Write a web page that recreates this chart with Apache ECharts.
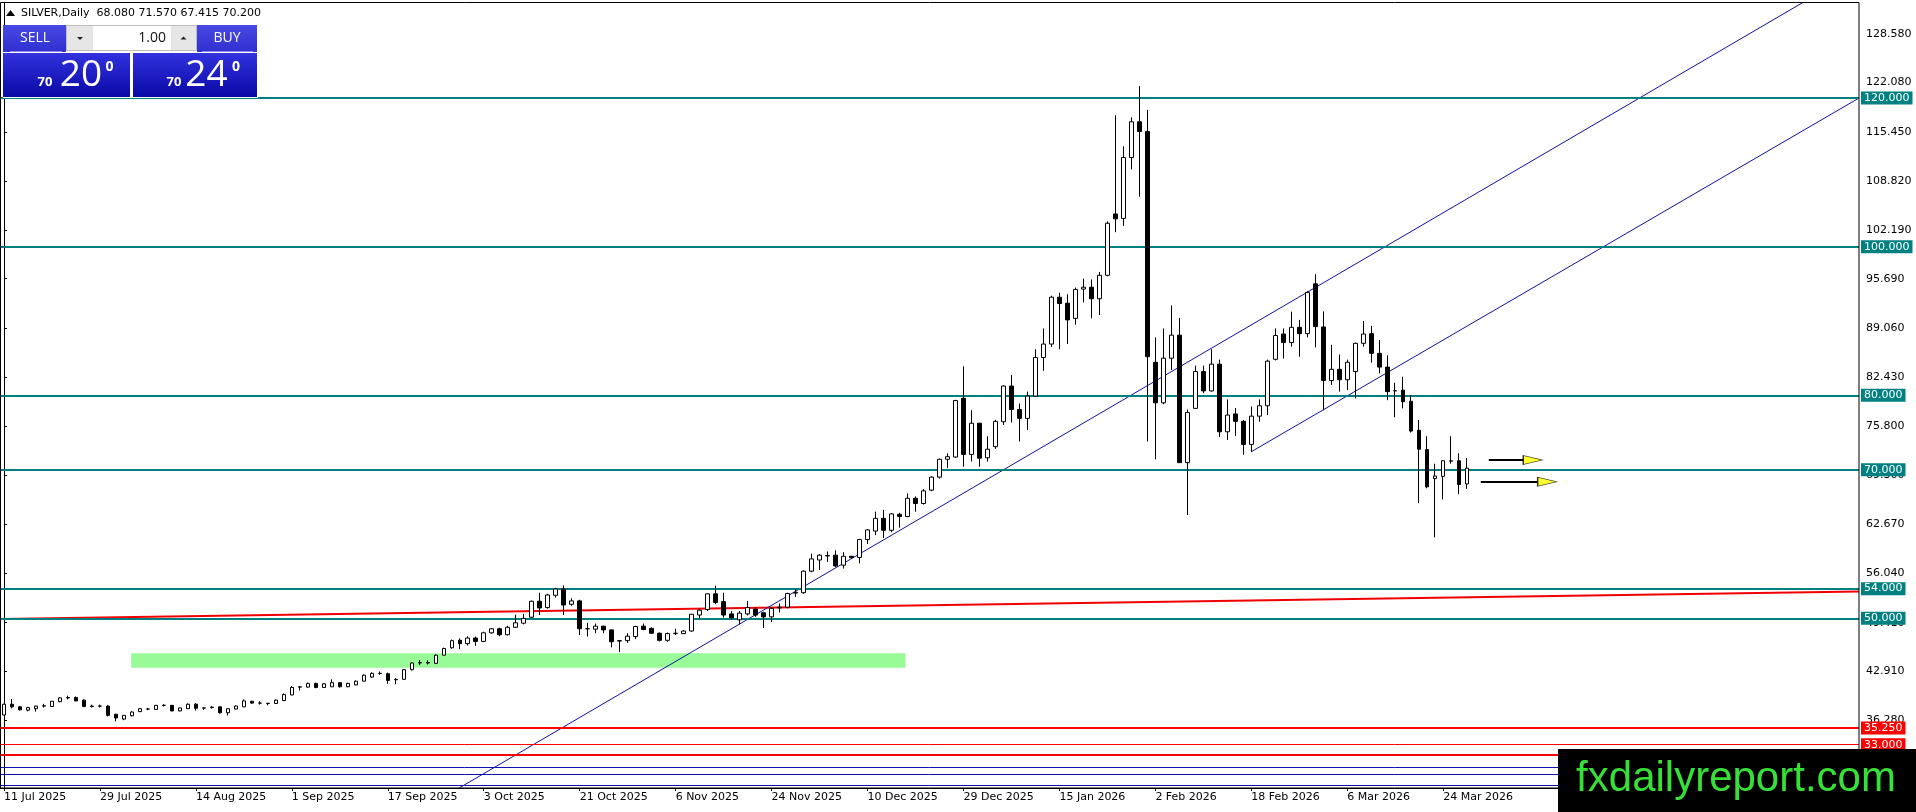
<!DOCTYPE html>
<html><head><meta charset="utf-8">
<script src="https://cdn.jsdelivr.net/npm/echarts@6/dist/echarts.min.js"></script>
<style>html,body{margin:0;padding:0;background:#fff;overflow:hidden}#c{width:1916px;height:812px}</style>
</head><body><div id="c"></div>
<script>
// ---- daily candles, index 0 = 11 Jul 2025 ... 183 = 27 Mar 2026 ----
const opens = [37.00,38.45,38.10,37.65,37.85,38.20,38.15,38.80,39.30,39.35,39.00,38.15,38.20,38.20,37.10,36.45,36.90,37.45,37.80,37.75,
38.30,38.30,37.55,37.85,38.45,37.93,38.00,38.10,37.30,37.80,38.10,38.85,38.60,38.55,38.55,38.95,39.70,40.75,40.75,41.25,
40.70,40.80,41.35,40.80,41.05,41.55,42.10,42.60,42.55,41.75,41.80,43.10,44.00,44.05,43.95,45.05,46.05,47.05,46.60,47.35,
46.90,48.05,48.60,47.80,48.80,49.35,50.15,52.30,51.45,53.10,53.95,51.90,52.35,48.60,48.55,48.95,48.45,46.95,47.00,47.55,
48.95,48.65,48.00,47.05,47.95,47.95,48.30,50.45,51.20,53.30,52.25,50.60,49.80,50.60,51.25,50.75,50.20,51.40,51.50,53.40,
53.45,56.35,57.85,58.45,58.50,57.15,58.35,58.20,60.60,61.75,63.45,61.85,64.00,63.70,66.15,65.45,67.25,69.00,71.40,71.70,
79.60,72.05,76.25,71.60,73.10,76.45,81.25,78.10,76.90,79.90,85.10,86.90,93.20,92.40,90.35,94.30,94.55,93.00,96.15,104.40,
103.80,112.00,116.80,115.50,84.45,79.00,85.00,88.10,70.95,78.25,83.20,80.60,84.20,75.10,77.50,76.50,73.40,77.20,78.60,84.85,
88.25,87.10,89.15,88.30,95.00,89.20,82.00,83.50,82.10,83.20,87.00,88.30,85.65,83.80,80.60,80.70,79.20,75.30,72.70,68.80,
69.10,71.15,71.20,68.08];
const highs = [38.50,39.15,38.20,38.10,38.25,38.50,38.90,39.40,39.60,39.50,39.10,38.40,38.40,38.30,37.15,37.00,37.50,37.90,37.95,38.35,
38.45,38.35,38.00,38.55,38.60,37.97,38.20,38.15,37.90,38.30,39.10,38.90,38.85,38.60,39.10,39.90,40.90,40.85,41.35,41.35,
41.30,41.80,41.40,41.35,41.65,42.45,42.75,42.85,42.70,41.95,43.20,44.10,44.40,44.35,45.15,46.05,47.15,47.30,47.60,47.55,
48.20,48.70,48.75,49.00,50.50,50.60,52.40,53.45,53.30,54.10,54.45,52.70,52.50,49.40,49.30,49.00,48.50,47.05,48.00,49.00,
49.30,48.80,48.10,48.10,48.60,48.40,50.60,51.30,53.35,54.40,53.45,51.00,51.00,52.35,51.50,50.90,51.45,52.00,53.45,53.95,
56.45,58.70,58.65,59.00,59.15,58.90,58.40,60.70,62.00,64.35,64.60,64.15,64.20,66.80,66.40,67.40,69.10,71.50,72.20,79.40,
83.90,78.00,76.30,74.50,76.70,81.35,82.75,78.90,80.50,86.20,89.00,93.40,93.80,93.60,94.50,95.70,95.60,96.60,103.40,117.70,
113.50,117.40,121.60,118.40,87.80,89.00,92.10,90.40,78.10,84.00,84.00,86.20,84.80,79.45,78.30,76.70,78.50,79.45,84.80,89.00,
89.00,91.25,90.15,94.00,96.30,91.30,86.80,85.50,84.80,87.10,90.00,89.35,87.45,85.40,81.70,82.50,80.05,76.70,74.50,70.80,
71.30,74.50,72.20,71.57];
const lows = [36.95,37.90,37.60,37.50,37.45,38.00,38.10,38.70,39.10,38.85,38.05,38.00,38.00,36.80,36.15,36.30,36.80,37.40,37.65,37.70,
38.15,37.50,37.50,37.80,37.60,37.70,37.85,37.20,36.95,37.75,38.05,38.50,38.40,38.30,38.50,38.85,39.65,40.30,40.70,40.60,
40.65,40.75,40.70,40.75,41.00,41.50,42.00,42.40,41.20,41.15,41.75,43.00,43.70,43.80,43.85,45.00,45.90,45.85,46.35,46.30,
46.80,47.95,47.60,47.70,48.70,49.20,50.05,50.45,51.30,52.80,50.45,51.70,47.75,47.55,48.00,48.00,46.10,45.45,46.70,47.20,
48.40,47.90,46.90,46.85,47.75,47.90,48.20,50.00,51.00,51.90,50.10,49.80,49.20,50.40,50.20,48.70,49.50,50.80,51.35,52.90,
53.30,56.20,56.50,57.60,56.90,56.70,58.00,57.40,60.00,61.20,60.80,61.60,62.20,63.60,64.35,65.30,67.10,68.80,70.20,71.60,
70.40,71.10,70.40,71.10,72.80,76.00,76.35,73.80,75.35,79.80,83.30,86.50,86.20,86.90,89.50,92.50,90.35,90.80,96.00,101.95,
102.80,110.40,106.70,73.80,71.40,78.80,83.40,70.90,63.90,78.20,80.30,80.50,74.40,74.00,74.55,72.00,72.40,76.45,77.35,84.70,
84.95,86.55,85.20,87.80,86.45,78.00,81.40,80.50,80.70,79.60,86.55,84.40,82.95,79.35,77.05,78.25,75.00,65.50,67.50,60.90,
66.00,70.80,66.70,67.415];
const closes = [38.45,38.10,37.70,38.00,38.20,38.25,38.85,39.30,39.35,38.90,38.15,38.20,38.20,36.95,36.60,36.95,37.40,37.85,37.80,38.30,
38.30,37.55,37.95,38.45,37.90,37.95,38.05,37.30,37.85,38.20,38.90,38.60,38.60,38.58,39.00,39.75,40.70,40.80,41.25,40.70,
41.20,41.35,40.80,41.25,41.55,42.35,42.60,42.60,41.65,41.80,43.10,44.00,44.05,44.00,45.05,45.95,47.00,46.60,47.35,46.90,
48.05,48.60,47.80,48.80,49.40,50.00,52.30,51.40,53.15,53.95,51.80,52.35,48.60,48.60,48.95,48.45,46.85,47.00,47.60,48.90,
48.50,48.00,47.05,47.95,48.00,48.30,50.55,51.10,53.30,52.15,50.45,50.05,50.70,51.45,50.45,50.20,51.35,51.50,53.35,53.50,
56.35,58.00,58.50,58.40,57.05,58.35,58.20,60.60,61.90,63.45,61.85,64.05,63.70,66.15,65.45,67.15,69.00,71.40,71.75,79.30,
72.05,76.25,71.55,72.75,76.50,81.25,78.10,76.90,79.90,85.10,86.90,93.20,92.35,90.15,94.25,94.55,93.00,96.15,103.15,103.75,
112.00,116.80,115.50,85.20,79.00,85.00,88.10,70.95,77.70,83.20,80.60,84.20,75.10,77.35,76.50,73.40,77.20,78.60,84.60,88.05,
87.10,89.15,88.30,93.85,89.25,82.00,83.50,82.10,84.45,87.00,88.25,85.65,83.80,80.50,80.62,79.15,75.20,72.75,67.70,69.15,
71.20,71.20,68.00,70.20];

// ---- axes ----
const dateTickIdx = [0,12,24,36,48,60,72,84,96,108,120,132,144,156,168,180];
const dateTickLabels = ['11 Jul 2025','29 Jul 2025','14 Aug 2025','1 Sep 2025','17 Sep 2025','3 Oct 2025','21 Oct 2025','6 Nov 2025',
  '24 Nov 2025','10 Dec 2025','29 Dec 2025','15 Jan 2026','2 Feb 2026','18 Feb 2026','6 Mar 2026','24 Mar 2026'];
const priceTicks = [128.58,122.08,115.45,108.82,102.19,95.69,89.06,82.43,75.80,69.30,62.67,56.04,49.41,42.91,36.28];
const xRange = [-0.5, 232];
const yRange = [27.18, 132.78];

// ---- drawn objects ----
const tealLevels = [120, 100, 80, 70, 54, 50];
const redLabeledLevels = [35.25, 33.0];
const redThickLevel = [31.6];
const blueLevels = [30.0, 29.0, 27.5];
const risingRedLine = [[-0.5, 49.91], [232, 53.61]];
const trendLine = [[50, 22.83], [232, 137.26]];
const channelLine = [[156, 72.42], [232, 120.0]];
const greenZone = [[15.9, 45.30], [112.75, 43.36]];
const arrowShafts = [[[185.7, 71.3], [190.0, 71.3]], [[184.7, 68.38], [191.8, 68.38]]];
const arrowHeads = [[191.2, 71.3], [193.0, 68.38]];

const candles = opens.map((o, i) => [i, o, closes[i], lows[i], highs[i]]);
const FONT = 'DejaVu Sans';
const chart = echarts.init(document.getElementById('c'), null, {renderer: 'canvas'});

const levelLabel = (bg) => ({
  show: true, position: 'end', distance: 2, color: '#fff', backgroundColor: bg,
  fontFamily: FONT, fontSize: 11, lineHeight: 13, padding: [0, 3, 0, 3],
  formatter: p => Number(p.value).toFixed(3)
});

const priceBox = {type: 'linear', x: 0, y: 0, x2: 0, y2: 1,
  colorStops: [{offset: 0, color: '#3232de'}, {offset: 1, color: '#0909a6'}]};
const btnFill = {type: 'linear', x: 0, y: 0, x2: 0, y2: 1,
  colorStops: [{offset: 0, color: '#4848e2'}, {offset: 1, color: '#3030d2'}]};

chart.setOption({
  animation: false,
  backgroundColor: '#fff',
  grid: {left: 0, right: 57, top: 3, bottom: 24},
  xAxis: {
    type: 'value', min: xRange[0], max: xRange[1],
    splitLine: {show: false},
    axisLine: {show: true, onZero: false, lineStyle: {color: '#000', width: 1}},
    axisTick: {show: true, length: 3, customValues: dateTickIdx, lineStyle: {color: '#000'}},
    axisLabel: {customValues: dateTickIdx, align: 'left', margin: 4, color: '#000', fontFamily: FONT, fontSize: 11,
      formatter: v => { const k = dateTickIdx.indexOf(Math.round(v)); return k >= 0 ? dateTickLabels[k] : ''; }}
  },
  yAxis: {
    type: 'value', position: 'right', min: yRange[0], max: yRange[1],
    splitLine: {show: false},
    axisLine: {show: true, lineStyle: {color: '#000', width: 1}},
    axisTick: {show: true, length: 3, customValues: priceTicks, lineStyle: {color: '#000'}},
    axisLabel: {customValues: priceTicks, margin: 7, color: '#000', fontFamily: FONT, fontSize: 11,
      formatter: v => Number(v).toFixed(3)}
  },
  series: [
    { type: 'line', data: [], z: 1, silent: true,
      markArea: {silent: true, itemStyle: {color: '#98fb98'},
        data: [[{coord: greenZone[0]}, {coord: greenZone[1]}]]}},
    { type: 'line', data: risingRedLine, z: 3, showSymbol: false, silent: true, clip: true,
      lineStyle: {color: '#f00000', width: 2}},
    { type: 'line', data: trendLine, z: 3, showSymbol: false, silent: true, clip: true,
      lineStyle: {color: '#10109e', width: 1}},
    { type: 'line', data: channelLine, z: 3, showSymbol: false, silent: true, clip: true,
      lineStyle: {color: '#10109e', width: 1}},
    { type: 'line', data: [], z: 4, silent: true,
      markLine: {silent: true, symbol: 'none', animation: false,
        lineStyle: {color: '#008080', width: 2, type: 'solid'},
        label: levelLabel('#008080'),
        data: tealLevels.map(v => ({yAxis: v}))}},
    { type: 'line', data: [], z: 4, silent: true,
      markLine: {silent: true, symbol: 'none', animation: false,
        lineStyle: {color: '#ff0000', width: 2, type: 'solid'},
        label: {show: false},
        data: [{yAxis: redLabeledLevels[0], label: levelLabel('#ff0000')},
               {yAxis: redLabeledLevels[1], label: levelLabel('#ff0000'), lineStyle: {width: 1}},
               ...redThickLevel.map(v => ({yAxis: v}))]}},
    { type: 'line', data: [], z: 4, silent: true,
      markLine: {silent: true, symbol: 'none', animation: false,
        lineStyle: {color: '#1010b0', width: 1, type: 'solid'},
        label: {show: false},
        data: blueLevels.map(v => ({yAxis: v}))}},
    { type: 'candlestick', data: candles, z: 5, barWidth: 4, silent: true,
      encode: {x: 0, y: [1, 2, 3, 4]},
      itemStyle: {color: '#ffffff', color0: '#000000', borderColor: '#000000', borderColor0: '#000000', borderWidth: 1}},
    { type: 'line', data: [], z: 6, silent: true,
      markLine: {silent: true, symbol: 'none', animation: false,
        lineStyle: {color: '#000', width: 2, type: 'solid'}, label: {show: false},
        data: arrowShafts.map(s => [{coord: s[0]}, {coord: s[1]}])}},
    { type: 'scatter', data: arrowHeads, z: 7, silent: true,
      symbol: 'triangle', symbolSize: [9, 19], symbolRotate: -90,
      itemStyle: {color: '#ffff00', borderColor: '#000', borderWidth: 1}}
  ],
  graphic: [
    {type: 'rect', silent: true, z: 50, shape: {x: 0.5, y: 2.5, width: 1858.5, height: 785.5},
      style: {fill: null, stroke: '#000', lineWidth: 1}},
    {type: 'polygon', silent: true, z: 100, shape: {points: [[6, 16], [15, 16], [10.5, 10]]}, style: {fill: '#000'}},
    {type: 'text', silent: true, z: 100, x: 21, y: 13,
      style: {text: 'SILVER,Daily  68.080 71.570 67.415 70.200', font: '11px "DejaVu Sans"', fill: '#000', verticalAlign: 'middle'}},
    // trade panel
    {type: 'rect', silent: true, z: 100, shape: {x: 3, y: 25, width: 255, height: 73}, style: {fill: '#fff'}},
    {type: 'rect', silent: true, z: 101, shape: {x: 3, y: 25, width: 63, height: 27}, style: {fill: btnFill}},
    {type: 'rect', silent: true, z: 101, shape: {x: 197, y: 25, width: 60, height: 27}, style: {fill: btnFill}},
    {type: 'line', silent: true, z: 102, shape: {x1: 10, y1: 51.5, x2: 62, y2: 51.5}, style: {stroke: '#8a8af0', lineWidth: 1}},
    {type: 'line', silent: true, z: 102, shape: {x1: 202, y1: 51.5, x2: 253, y2: 51.5}, style: {stroke: '#8a8af0', lineWidth: 1}},
    {type: 'text', silent: true, z: 102, x: 35, y: 38.5,
      style: {text: 'SELL', font: '14px "Open Sans"', fill: '#fff', align: 'center', verticalAlign: 'middle'}},
    {type: 'text', silent: true, z: 102, x: 227, y: 38.5,
      style: {text: 'BUY', font: '14px "Open Sans"', fill: '#fff', align: 'center', verticalAlign: 'middle'}},
    {type: 'rect', silent: true, z: 101, shape: {x: 66.5, y: 25.5, width: 130, height: 25}, style: {fill: '#e6e6e6', stroke: '#bdbdbd'}},
    {type: 'rect', silent: true, z: 102, shape: {x: 93, y: 26, width: 78, height: 24}, style: {fill: '#fff'}},
    {type: 'polygon', silent: true, z: 103, shape: {points: [[77, 37], [83, 37], [80, 40]]}, style: {fill: '#222'}},
    {type: 'polygon', silent: true, z: 103, shape: {points: [[180.5, 39.5], [186.5, 39.5], [183.5, 36.5]]}, style: {fill: '#222'}},
    {type: 'text', silent: true, z: 103, x: 166, y: 38,
      style: {text: '1.00', font: '14px "Open Sans"', fill: '#111', align: 'right', verticalAlign: 'middle'}},
    {type: 'rect', silent: true, z: 101, shape: {x: 3, y: 53, width: 127, height: 44}, style: {fill: priceBox}},
    {type: 'rect', silent: true, z: 101, shape: {x: 133, y: 53, width: 124, height: 44}, style: {fill: priceBox}},
    {type: 'text', silent: true, z: 102, x: 45, y: 82,
      style: {text: '70', font: 'bold 13px "Open Sans"', fill: '#fff', align: 'center', verticalAlign: 'middle'}},
    {type: 'text', silent: true, z: 102, x: 81, y: 75,
      style: {text: '20', font: '37px "Open Sans"', fill: '#fff', align: 'center', verticalAlign: 'middle'}},
    {type: 'text', silent: true, z: 102, x: 109.5, y: 67.5,
      style: {text: '0', font: 'bold 14px "Open Sans"', fill: '#fff', align: 'center', verticalAlign: 'middle'}},
    {type: 'text', silent: true, z: 102, x: 174, y: 82,
      style: {text: '70', font: 'bold 13px "Open Sans"', fill: '#fff', align: 'center', verticalAlign: 'middle'}},
    {type: 'text', silent: true, z: 102, x: 206.5, y: 75,
      style: {text: '24', font: '37px "Open Sans"', fill: '#fff', align: 'center', verticalAlign: 'middle'}},
    {type: 'text', silent: true, z: 102, x: 236, y: 67.5,
      style: {text: '0', font: 'bold 14px "Open Sans"', fill: '#fff', align: 'center', verticalAlign: 'middle'}},
    // watermark
    {type: 'rect', silent: true, z: 200, shape: {x: 1558, y: 749, width: 358, height: 63}, style: {fill: '#000'}},
    {type: 'text', silent: true, z: 201, x: 1736, y: 779,
      style: {text: 'fxdailyreport.com', font: '42px "Liberation Sans"', fill: '#36e036', align: 'center', verticalAlign: 'middle'}}
  ]
});
</script></body></html>
